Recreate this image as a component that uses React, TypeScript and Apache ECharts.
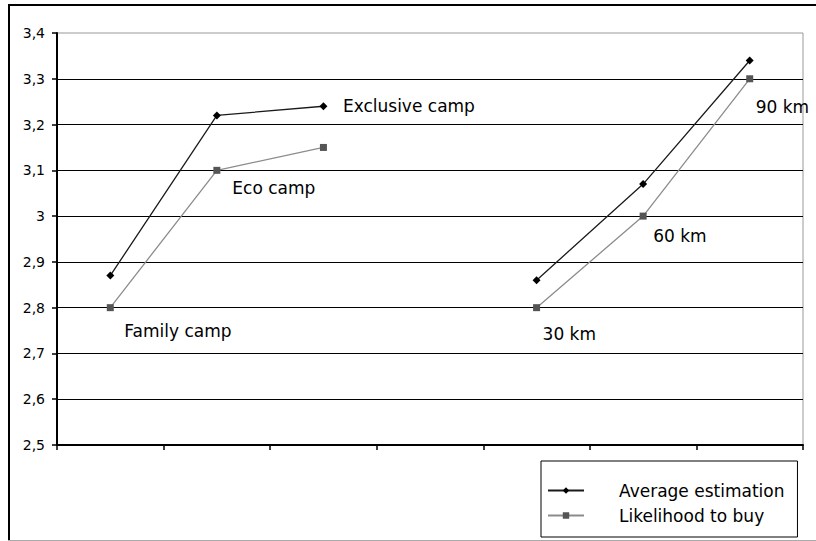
import React, { useEffect, useRef } from "react";
import * as echarts from "echarts";

const categories = ["Family camp", "Eco camp", "Exclusive camp", "", "30 km", "60 km", "90 km"];
const averageEstimation: (number | null)[] = [2.87, 3.22, 3.24, null, 2.86, 3.07, 3.34];
const likelihoodToBuy: (number | null)[] = [2.8, 3.1, 3.15, null, 2.8, 3.0, 3.3];
const yMin = 2.5;
const yMax = 3.4;
const yInterval = 0.1;
const legendNames = ["Average estimation", "Likelihood to buy"];

// which series carries each category's annotation, and its offset (styling only)
const labelOwner = ["buy", "buy", "avg", "", "buy", "buy", "buy"];
const labelOffsets: [number, number][] = [
  [10.5, 23],
  [12, 18],
  [15.5, 0],
  [0, 0],
  [2.5, 26],
  [6.5, 20],
  [2.5, 28.5],
];

const FONT = "DejaVu Sans";

function buildData(values: (number | null)[], owner: string) {
  return values.map((v, i) => {
    if (v === null) return "-";
    const show = labelOwner[i] === owner;
    return {
      value: v,
      label: show
        ? {
            show: true,
            position: "right",
            distance: 0,
            offset: labelOffsets[i],
            formatter: categories[i],
            fontFamily: FONT,
            fontSize: 17,
            color: "#000",
          }
        : { show: false },
    };
  });
}

export default function App() {
  const ref = useRef<HTMLDivElement>(null);
  useEffect(() => {
    if (!ref.current) return;
    const chart = echarts.init(ref.current, undefined, { renderer: "svg" });
    chart.setOption({
      animation: false,
      backgroundColor: "#fff",
      textStyle: { fontFamily: FONT },
      grid: {
        left: 57,
        right: 13,
        top: 33,
        bottom: 96,
        show: true,
        borderColor: "#999",
        borderWidth: 1,
        backgroundColor: "transparent",
      },
      xAxis: {
        type: "category",
        data: categories,
        boundaryGap: true,
        axisLine: { show: true, lineStyle: { color: "#000", width: 2 } },
        axisTick: { show: true, interval: 0, length: 5, lineStyle: { color: "#000", width: 1.5 } },
        axisLabel: { show: false, interval: 0 },
        splitLine: { show: false },
      },
      yAxis: {
        type: "value",
        min: yMin,
        max: yMax,
        interval: yInterval,
        axisLine: { show: true, lineStyle: { color: "#000", width: 2 } },
        axisTick: { show: true, length: 5, lineStyle: { color: "#000", width: 1.5 } },
        axisLabel: {
          margin: 12,
          fontFamily: FONT,
          fontSize: 14,
          color: "#000",
          formatter: (v: number) => String(Math.round(v * 10) / 10).replace(".", ","),
        },
        splitLine: {
          show: true,
          showMaxLine: false,
          lineStyle: { color: "#000", width: 1.2 },
        },
      },
      legend: {
        show: true,
        orient: "vertical",
        left: 541,
        top: 461,
        padding: [21, 13, 13, 6],
        borderColor: "#000",
        borderWidth: 1,
        backgroundColor: "#fff",
        itemWidth: 36,
        itemHeight: 8,
        itemGap: 8,
        data: legendNames,
        textStyle: {
          fontFamily: FONT,
          fontSize: 17,
          color: "#000",
          padding: [0, 0, 0, 30],
        },
      },
      series: [
        {
          name: legendNames[0],
          type: "line",
          data: buildData(averageEstimation, "avg"),
          symbol: "diamond",
          symbolSize: 8,
          connectNulls: false,
          lineStyle: { color: "#1a1a1a", width: 1.3 },
          itemStyle: { color: "#000" },
          z: 3,
        },
        {
          name: legendNames[1],
          type: "line",
          data: buildData(likelihoodToBuy, "buy"),
          symbol: "rect",
          symbolSize: 7,
          connectNulls: false,
          lineStyle: { color: "#8c8c8c", width: 1.3 },
          itemStyle: { color: "#555" },
          z: 2,
        },
      ],
      graphic: [
        {
          type: "line",
          shape: { x1: 8, y1: 5, x2: 816, y2: 5 },
          style: { stroke: "#000", lineWidth: 2 },
        },
        {
          type: "line",
          shape: { x1: 9, y1: 4, x2: 9, y2: 541 },
          style: { stroke: "#000", lineWidth: 2 },
        },
        {
          type: "line",
          shape: { x1: 8, y1: 540.5, x2: 816, y2: 540.5 },
          style: { stroke: "#aaa", lineWidth: 1 },
        },
      ],
    });
    return () => chart.dispose();
  }, []);
  return (
    <div
      ref={ref}
      style={{ position: "absolute", left: 0, top: 0, width: 816, height: 541 }}
    />
  );
}
